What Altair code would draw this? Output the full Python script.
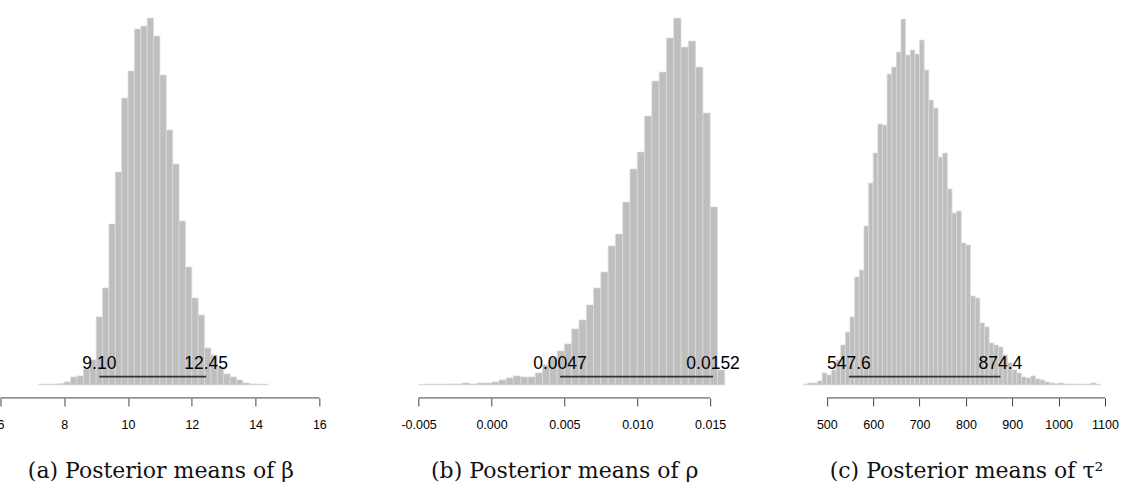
import altair as alt
import pandas as pd

# ---------------- data ----------------
# (a) posterior means of beta : bins of width 0.2
beta_bin_start = [7.2, 7.4, 7.6, 7.8, 8.0, 8.2, 8.4, 8.6, 8.8, 9.0, 9.2, 9.4, 9.6, 9.8,
                  10.0, 10.2, 10.4, 10.6, 10.8, 11.0, 11.2, 11.4, 11.6, 11.8, 12.0,
                  12.2, 12.4, 12.6, 12.8, 13.0, 13.2, 13.4, 13.6, 13.8, 14.0, 14.2]
beta_counts = [0.8, 0.8, 0.8, 1.5, 3, 8, 9, 16, 25, 68, 97, 161, 213, 287,
               314, 356, 359, 367, 349, 310, 255, 221, 164, 118, 87,
               70, 37, 30, 18, 11, 8, 5, 2, 1, 0.8, 0.8]
beta_bin_width = 0.2
beta_ticks = [6, 8, 10, 12, 14, 16]
beta_ci = [9.10, 12.45]
beta_ci_text = ["9.10", "12.45"]

# (b) posterior means of rho : bins of width 0.0005
rho_bin_start = [-0.0050, -0.0045, -0.0040, -0.0035, -0.0030, -0.0025, -0.0020, -0.0015,
                 -0.0010, -0.0005, 0.0000, 0.0005, 0.0010, 0.0015, 0.0020, 0.0025,
                 0.0030, 0.0035, 0.0040, 0.0045, 0.0050, 0.0055, 0.0060, 0.0065,
                 0.0070, 0.0075, 0.0080, 0.0085, 0.0090, 0.0095, 0.0100, 0.0105,
                 0.0110, 0.0115, 0.0120, 0.0125, 0.0130, 0.0135, 0.0140, 0.0145,
                 0.0150, 0.0155]
rho_counts = [0.5, 0.8, 0.8, 0.8, 1, 1, 2, 1,
              2, 2, 3, 5, 7, 9, 8, 8,
              12, 20, 27, 34, 41, 56, 65, 80,
              97, 113, 139, 151, 183, 216, 233, 269,
              304, 313, 347, 367, 338, 344, 318, 272,
              178, 15]
rho_bin_width = 0.0005
rho_ticks = [-0.005, 0.000, 0.005, 0.010, 0.015]
rho_ci = [0.0047, 0.0152]
rho_ci_text = ["0.0047", "0.0152"]

# (c) posterior means of tau^2 : bins of width 10
tau_bin_start = [450, 460, 470, 480, 490, 500, 510, 520, 530, 540, 550, 560, 570, 580,
                 590, 600, 610, 620, 630, 640, 650, 660, 670, 680, 690, 700, 710, 720,
                 730, 740, 750, 760, 770, 780, 790, 800, 810, 820, 830, 840, 850, 860,
                 870, 880, 890, 900, 910, 920, 930, 940, 950, 960, 970, 980, 990, 1000,
                 1010, 1020, 1030, 1040, 1050, 1060, 1070, 1080]
tau_counts = [1, 2, 2, 4, 12, 10, 15, 25, 40, 53, 68, 108, 115, 159,
              202, 232, 261, 260, 311, 318, 333, 366, 330, 335, 331, 345, 315, 285,
              277, 228, 232, 196, 172, 174, 142, 140, 89, 87, 62, 58, 42, 40,
              38, 30, 22, 15, 12, 8, 7, 9, 6, 5, 3, 2, 1.5, 2,
              1, 1, 1, 0.8, 0.8, 0.8, 2, 0.8]
tau_bin_width = 10
tau_ticks = [500, 600, 700, 800, 900, 1000, 1100]
tau_ci = [547.6, 874.4]
tau_ci_text = ["547.6", "874.4"]

captions = ["(a) Posterior means of \u03b2",
            "(b) Posterior means of \u03c1",
            "(c) Posterior means of \u03c4\u00b2"]

# ---------------- styling ----------------
H = 385
Y_MAX = 385
BAR_FILL = "#bebebe"
BAR_EDGE = "#dcdcdc"
INK = "#000000"
TICK_FONT = "Liberation Sans Narrow, Liberation Sans"
NUM_FONT = "Liberation Sans"
CAP_FONT = "DejaVu Serif"


def panel(starts, counts, bw, ticks, ci, ci_text, domain, width, label_expr,
          caption, title_x):
    bars_df = pd.DataFrame({
        "lo": starts,
        "hi": [s + bw for s in starts],
        "count": counts,
    })
    xs = alt.Scale(domain=domain, nice=False, zero=False)
    ys = alt.Scale(domain=[0, Y_MAX], nice=False, zero=True)
    xaxis = alt.Axis(
        values=ticks, domain=False, grid=False, ticks=True,
        tickSize=8, tickColor="#444444", tickWidth=1, offset=13,
        labelFont=TICK_FONT, labelFontSize=12.5, labelColor=INK,
        labelPadding=13, labelFlush=False, labelOverlap=False,
        labelExpr=label_expr,
        title=caption, titleFont=CAP_FONT, titleFontSize=22,
        titleFontWeight="normal", titleColor="#111111",
        titleX=title_x, titleY=80, titleAlign="center",
        titleBaseline="alphabetic")

    bars = alt.Chart(bars_df).mark_rect(
        fill=BAR_FILL, stroke=BAR_EDGE, strokeWidth=0.7
    ).encode(
        x=alt.X("lo:Q", scale=xs, axis=xaxis),
        x2="hi:Q",
        y=alt.Y("count:Q", scale=ys, axis=None),
        y2=alt.datum(0),
    )

    axis_df = pd.DataFrame({"lo": [ticks[0]], "hi": [ticks[-1]]})
    axis_line = alt.Chart(axis_df).mark_rule(color="#444444", strokeWidth=1).encode(
        x=alt.X("lo:Q", scale=xs, axis=xaxis),
        x2="hi:Q",
        y=alt.value(H + 13),
    )

    ci_df = pd.DataFrame({"lo": [ci[0]], "hi": [ci[1]], "count": [8.3]})
    ci_line = alt.Chart(ci_df).mark_rule(color="#333333", strokeWidth=1.6).encode(
        x=alt.X("lo:Q", scale=xs, axis=xaxis),
        x2="hi:Q",
        y=alt.Y("count:Q", scale=ys, axis=None),
    )

    lab_df = pd.DataFrame({"lo": ci, "t": ci_text, "count": [21, 21]})
    ci_labels = alt.Chart(lab_df).mark_text(
        font=NUM_FONT, fontSize=17.5, color="#000000", align="center",
        baseline="middle"
    ).encode(
        x=alt.X("lo:Q", scale=xs, axis=xaxis),
        y=alt.Y("count:Q", scale=ys, axis=None),
        text="t:N",
    )

    return alt.layer(bars, axis_line, ci_line, ci_labels).properties(
        width=width, height=H)


# panel geometry (plot-area pixels)
WA, WB, WC = 345, 385, 371
pa = panel(beta_bin_start, beta_counts, beta_bin_width, beta_ticks, beta_ci,
           beta_ci_text, [6.0, 6.0 + WA / 31.9], WA,
           "format(datum.value, 'd')", captions[0], 160)
pb = panel(rho_bin_start, rho_counts, rho_bin_width, rho_ticks, rho_ci,
           rho_ci_text, [-0.0089973, -0.0089973 + WB / 14585.0], WB,
           "replace(format(datum.value, '.3f'), '\u2212', '-')", captions[1], 204)
pc = panel(tau_bin_start, tau_counts, tau_bin_width, tau_ticks, tau_ci,
           tau_ci_text, [356.2, 356.2 + WC / 0.46383], WC,
           "format(datum.value, 'd')", captions[2], 206)

chart = alt.hconcat(pa, pb, pc, spacing=15, bounds="flush").properties(
    padding={"left": -3.5, "top": 0, "right": 0, "bottom": 0}
).configure_view(stroke=None)

chart.save("out.html", embed_options={"renderer": "svg", "actions": False})
